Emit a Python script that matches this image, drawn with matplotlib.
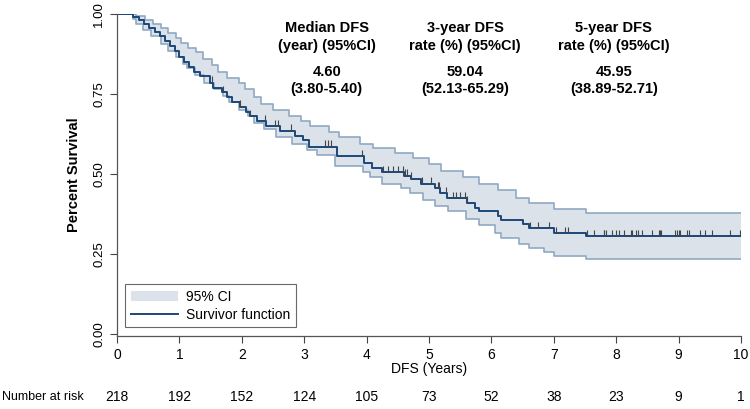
import numpy as np
import matplotlib.pyplot as plt
from matplotlib.transforms import blended_transform_factory
from matplotlib.patches import Patch
from matplotlib.lines import Line2D

plt.rcParams['font.family'] = ['Liberation Sans', 'DejaVu Sans']

# Kaplan-Meier estimate (step points: time, survival after that time)
km_t = [0, 0.25, 0.36, 0.44, 0.52, 0.61, 0.69, 0.77, 0.85, 0.93, 0.99, 1.07, 1.15, 1.23,
        1.33, 1.49, 1.54, 1.68, 1.76, 1.84, 1.97, 2.07, 2.13, 2.24, 2.39, 2.61, 2.85, 2.98,
        3.08, 3.53, 3.96, 4.09, 4.25, 4.60, 4.71, 4.87, 5.10, 5.18, 5.29, 5.61, 5.73, 5.80,
        6.11, 6.16, 6.51, 6.61, 7.01, 7.52, 10.0]
km_s = [1.0, 0.99, 0.98, 0.97, 0.955, 0.945, 0.93, 0.915, 0.90, 0.885, 0.865, 0.85, 0.835, 0.82,
        0.805, 0.785, 0.77, 0.755, 0.74, 0.725, 0.71, 0.695, 0.68, 0.665, 0.65, 0.635, 0.62, 0.605,
        0.585, 0.555, 0.535, 0.52, 0.505, 0.495, 0.485, 0.47, 0.455, 0.44, 0.425, 0.41, 0.395, 0.385,
        0.37, 0.355, 0.345, 0.33, 0.315, 0.305, 0.305]

# 95% CI bounds
up_t = [0, 0.30, 0.45, 0.58, 0.70, 0.82, 0.94, 1.02, 1.13, 1.26, 1.38, 1.52, 1.62, 1.76, 1.95,
        2.05, 2.20, 2.30, 2.50, 2.75, 2.95, 3.10, 3.40, 3.55, 3.90, 4.10, 4.45, 4.75, 5.00, 5.20,
        5.55, 5.80, 6.10, 6.40, 6.60, 7.00, 7.52, 10.0]
up_s = [1.0, 0.995, 0.98, 0.97, 0.955, 0.94, 0.925, 0.91, 0.895, 0.88, 0.86, 0.84, 0.82, 0.80, 0.785,
        0.765, 0.74, 0.72, 0.70, 0.68, 0.665, 0.65, 0.63, 0.615, 0.595, 0.58, 0.565, 0.55, 0.53, 0.51,
        0.49, 0.47, 0.45, 0.425, 0.41, 0.39, 0.378, 0.378]
lo_t = [0, 0.25, 0.30, 0.42, 0.55, 0.70, 0.82, 0.95, 1.05, 1.12, 1.25, 1.40, 1.55, 1.70, 1.80,
        1.95, 2.10, 2.20, 2.35, 2.55, 2.80, 3.05, 3.20, 3.50, 3.95, 4.05, 4.25, 4.55, 4.70, 4.90,
        5.10, 5.30, 5.60, 5.80, 6.05, 6.15, 6.45, 6.60, 6.85, 7.00, 7.52, 10.0]
lo_s = [1.0, 0.985, 0.97, 0.95, 0.93, 0.905, 0.885, 0.865, 0.845, 0.83, 0.81, 0.785, 0.765, 0.745, 0.725,
        0.70, 0.68, 0.66, 0.64, 0.615, 0.595, 0.575, 0.56, 0.525, 0.505, 0.49, 0.47, 0.455, 0.44, 0.42,
        0.40, 0.385, 0.36, 0.34, 0.315, 0.30, 0.28, 0.27, 0.255, 0.245, 0.235, 0.235]

# censored observations
cens_t = [1.52, 1.70, 1.97, 2.13, 2.37, 2.53, 2.58, 2.79, 3.33, 3.38, 3.43, 3.93, 4.27, 4.35,
          4.42, 4.50, 4.59, 4.62, 4.65, 4.71, 4.89, 5.04, 5.15, 5.16, 5.27, 5.39, 5.44, 5.50,
          5.58, 5.61, 6.62, 6.74, 6.93, 7.04, 7.18, 7.23, 7.54, 7.64, 7.80, 7.81, 7.84, 7.94,
          7.99, 8.04, 8.13, 8.23, 8.26, 8.31, 8.35, 8.42, 8.58, 8.68, 8.70, 8.72, 8.94, 8.97,
          9.00, 9.03, 9.14, 9.16, 9.34, 9.43, 9.54, 9.83, 9.99]

risk_t = [0, 1, 2, 3, 4, 5, 6, 7, 8, 9, 10]
risk_n = [218, 192, 152, 124, 105, 73, 52, 38, 23, 9, 1]

summ_x = [3.36, 5.58, 7.96]
summ_head = ["Median DFS\n(year) (95%CI)", "3-year DFS\nrate (%) (95%CI)", "5-year DFS\nrate (%) (95%CI)"]
summ_val = ["4.60\n(3.80-5.40)", "59.04\n(52.13-65.29)", "45.95\n(38.89-52.71)"]

fill_c = '#dce2ea'
edge_c = '#90a8c4'
line_c = '#1c4778'

fig = plt.figure(figsize=(7.5, 4.09), dpi=100)
ax = fig.add_axes([0.156, 0.1785, 0.832, 0.7873])

# CI band: common grid from both bound step functions
grid = np.unique(np.concatenate([up_t, lo_t]))
up_g = np.array(up_s)[np.searchsorted(up_t, grid, side='right') - 1]
lo_g = np.array(lo_s)[np.searchsorted(lo_t, grid, side='right') - 1]
ax.fill_between(grid, lo_g, up_g, step='post', color=fill_c, lw=0)
ax.step(up_t, up_s, where='post', color=edge_c, lw=1.2)
ax.step(lo_t, lo_s, where='post', color=edge_c, lw=1.2)
ax.step(km_t, km_s, where='post', color=line_c, lw=1.4)

cs = np.array(km_s)[np.searchsorted(km_t, cens_t, side='right') - 1]
ax.vlines(cens_t, cs, cs + 0.02, color='#444444', lw=0.8)

ax.set_xlim(0, 10)
ax.set_ylim(-0.006, 1.0)
ax.set_xticks(range(0, 11))
ax.set_yticks([0, 0.25, 0.5, 0.75, 1.0])
ax.set_yticklabels(['0.00', '0.25', '0.50', '0.75', '1.00'], rotation=90, va='center')
ax.tick_params(axis='x', labelsize=10, length=5, color='#444444', width=0.8)
ax.tick_params(axis='y', labelsize=9.5, length=5, color='#444444', width=0.8)
ax.spines['top'].set_visible(False)
ax.spines['right'].set_visible(False)
for s in ['left', 'bottom']:
    ax.spines[s].set_color('#555555')
    ax.spines[s].set_linewidth(0.9)
ax.set_xlabel('DFS (Years)', fontsize=10, labelpad=0)
ax.set_ylabel('Percent Survival', fontsize=10.5, fontweight='bold', labelpad=9)

for x, h, v in zip(summ_x, summ_head, summ_val):
    ax.text(x, 0.978, h, ha='center', va='top', fontsize=10.5, fontweight='bold', linespacing=1.35)
    ax.text(x, 0.842, v, ha='center', va='top', fontsize=10.5, fontweight='bold', linespacing=1.35)

handles = [Patch(facecolor=fill_c, edgecolor='none'), Line2D([], [], color=line_c, lw=1.4)]
leg = ax.legend(handles, ['95% CI', 'Survivor function'], loc='lower left',
                bbox_to_anchor=(0.002, 0.005), fontsize=10, frameon=True, fancybox=False,
                borderpad=0.4, handlelength=3.4, labelspacing=0.3, handletextpad=0.6)
leg.get_frame().set_edgecolor('#444444')
leg.get_frame().set_linewidth(0.8)

tr = blended_transform_factory(ax.transData, fig.transFigure)
for x, n in zip(risk_t, risk_n):
    ax.text(x, 0.03, str(n), transform=tr, ha='center', va='center', fontsize=10)
fig.text(0.002, 0.03, 'Number at risk', ha='left', va='center', fontsize=9)

fig.savefig('out.png', dpi=100)
